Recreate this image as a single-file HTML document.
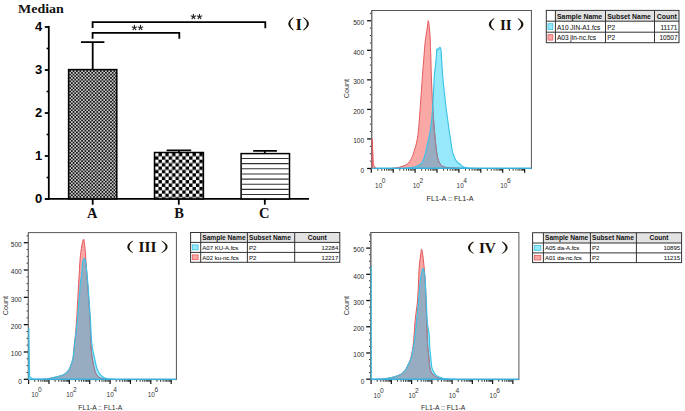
<!DOCTYPE html>
<html><head><meta charset="utf-8"><title>Figure</title>
<style>html,body{margin:0;padding:0;background:#fff;width:685px;height:411px;overflow:hidden;font-family:"Liberation Sans",sans-serif}
svg{display:block}</style></head>
<body><svg width="685" height="411" viewBox="0 0 685 411">
<rect width="685" height="411" fill="#fff"/>
<defs>
<pattern id="pA" patternUnits="userSpaceOnUse" x="69.3" y="70.3" width="3.4" height="3.4">
<rect width="3.4" height="3.4" fill="#cacaca"/><rect width="1.7" height="1.7" fill="#151515"/><rect x="1.7" y="1.7" width="1.7" height="1.7" fill="#151515"/>
</pattern>
<pattern id="pB" patternUnits="userSpaceOnUse" x="155.1" y="152.9" width="6.8" height="6.8">
<rect width="6.8" height="6.8" fill="#000"/><rect width="3.4" height="3.4" fill="#fff"/><rect x="3.4" y="3.4" width="3.4" height="3.4" fill="#fff"/>
</pattern>
</defs>
<text x="18" y="13.1" font-family='"Liberation Serif", serif' font-weight="bold" font-size="13.5" fill="#111" textLength="45.8" lengthAdjust="spacingAndGlyphs">Median</text>
<line x1="48.8" y1="25.9" x2="48.8" y2="199.6" stroke="#000" stroke-width="1.8"/>
<line x1="45.2" y1="198.9" x2="309" y2="198.9" stroke="#000" stroke-width="1.6"/>
<line x1="44.8" y1="199" x2="48.8" y2="199" stroke="#000" stroke-width="1.8"/>
<text x="42.3" y="202.9" text-anchor="end" font-family='"Liberation Sans", sans-serif' font-weight="bold" font-size="13" fill="#000">0</text>
<line x1="46.6" y1="177.5" x2="48.8" y2="177.5" stroke="#000" stroke-width="1.6"/>
<line x1="44.8" y1="156" x2="48.8" y2="156" stroke="#000" stroke-width="1.8"/>
<text x="42.3" y="159.9" text-anchor="end" font-family='"Liberation Sans", sans-serif' font-weight="bold" font-size="13" fill="#000">1</text>
<line x1="46.6" y1="134.5" x2="48.8" y2="134.5" stroke="#000" stroke-width="1.6"/>
<line x1="44.8" y1="113" x2="48.8" y2="113" stroke="#000" stroke-width="1.8"/>
<text x="42.3" y="116.9" text-anchor="end" font-family='"Liberation Sans", sans-serif' font-weight="bold" font-size="13" fill="#000">2</text>
<line x1="46.6" y1="91.5" x2="48.8" y2="91.5" stroke="#000" stroke-width="1.6"/>
<line x1="44.8" y1="70" x2="48.8" y2="70" stroke="#000" stroke-width="1.8"/>
<text x="42.3" y="73.9" text-anchor="end" font-family='"Liberation Sans", sans-serif' font-weight="bold" font-size="13" fill="#000">3</text>
<line x1="46.6" y1="48.5" x2="48.8" y2="48.5" stroke="#000" stroke-width="1.6"/>
<line x1="44.8" y1="27" x2="48.8" y2="27" stroke="#000" stroke-width="1.8"/>
<text x="42.3" y="30.9" text-anchor="end" font-family='"Liberation Sans", sans-serif' font-weight="bold" font-size="13" fill="#000">4</text>
<line x1="92.7" y1="198.9" x2="92.7" y2="204.7" stroke="#000" stroke-width="1.8"/>
<text x="92.2" y="217.9" text-anchor="middle" font-family='"Liberation Serif", serif' font-weight="bold" font-size="14.5" fill="#111">A</text>
<line x1="178.8" y1="198.9" x2="178.8" y2="204.7" stroke="#000" stroke-width="1.8"/>
<text x="179" y="217.9" text-anchor="middle" font-family='"Liberation Serif", serif' font-weight="bold" font-size="14.5" fill="#111">B</text>
<line x1="264.8" y1="198.9" x2="264.8" y2="204.7" stroke="#000" stroke-width="1.8"/>
<text x="264.3" y="217.9" text-anchor="middle" font-family='"Liberation Serif", serif' font-weight="bold" font-size="14.5" fill="#111">C</text>
<rect x="68.6" y="69.6" width="48.2" height="129.3" fill="url(#pA)" stroke="#000" stroke-width="1.5"/>
<rect x="154.5" y="152.5" width="48.9" height="46.4" fill="url(#pB)" stroke="#000" stroke-width="1.5"/>
<rect x="241.1" y="153.6" width="48.4" height="45.3" fill="#fff" stroke="#000" stroke-width="1.5"/>
<line x1="241.8" y1="158.5" x2="288.8" y2="158.5" stroke="#333" stroke-width="1.1"/>
<line x1="241.8" y1="163.65" x2="288.8" y2="163.65" stroke="#333" stroke-width="1.1"/>
<line x1="241.8" y1="168.8" x2="288.8" y2="168.8" stroke="#333" stroke-width="1.1"/>
<line x1="241.8" y1="173.95" x2="288.8" y2="173.95" stroke="#333" stroke-width="1.1"/>
<line x1="241.8" y1="179.1" x2="288.8" y2="179.1" stroke="#333" stroke-width="1.1"/>
<line x1="241.8" y1="184.25" x2="288.8" y2="184.25" stroke="#333" stroke-width="1.1"/>
<line x1="241.8" y1="189.4" x2="288.8" y2="189.4" stroke="#333" stroke-width="1.1"/>
<line x1="241.8" y1="194.55" x2="288.8" y2="194.55" stroke="#333" stroke-width="1.1"/>
<path d="M92.7 69 V42.2 M81 42.2 H104.4" stroke="#000" stroke-width="1.8" fill="none"/>
<path d="M178.9 152 V150.3 M166.6 150.3 H191.2" stroke="#000" stroke-width="1.8" fill="none"/>
<path d="M264.8 153 V150.9 M253.2 150.9 H276.9" stroke="#000" stroke-width="1.8" fill="none"/>
<path d="M92.6 28 V22.1 H265.3 V28.2" stroke="#000" stroke-width="1.8" fill="none"/>
<path d="M92.6 38.8 V32.8 H179.3 V38.8" stroke="#000" stroke-width="1.8" fill="none"/>
<path d="M134.4 27.75 L134.4 25.45 M134.4 27.75 L136.59 27.04 M134.4 27.75 L135.75 29.61 M134.4 27.75 L133.05 29.61 M134.4 27.75 L132.21 27.04 " stroke="#2a2a2a" stroke-width="1.2" stroke-linecap="round" fill="none"/>
<path d="M140.5 27.75 L140.5 25.45 M140.5 27.75 L142.69 27.04 M140.5 27.75 L141.85 29.61 M140.5 27.75 L139.15 29.61 M140.5 27.75 L138.31 27.04 " stroke="#2a2a2a" stroke-width="1.2" stroke-linecap="round" fill="none"/>
<path d="M193.4 16.7 L193.4 14.4 M193.4 16.7 L195.59 15.99 M193.4 16.7 L194.75 18.56 M193.4 16.7 L192.05 18.56 M193.4 16.7 L191.21 15.99 " stroke="#2a2a2a" stroke-width="1.2" stroke-linecap="round" fill="none"/>
<path d="M199.5 16.7 L199.5 14.4 M199.5 16.7 L201.69 15.99 M199.5 16.7 L200.85 18.56 M199.5 16.7 L198.15 18.56 M199.5 16.7 L197.31 15.99 " stroke="#2a2a2a" stroke-width="1.2" stroke-linecap="round" fill="none"/>
<path d="M293.1 17.3 Q283.5 23.85 293.1 30.4 L293.7 30.1 Q286.9 23.85 293.7 17.6 Z" fill="#1a1208"/>
<path d="M303.7 17.3 Q314.1 23.85 303.7 30.4 L303.1 30.1 Q310.7 23.85 303.1 17.6 Z" fill="#1a1208"/>
<text x="295.6" y="29.5" font-family='"Liberation Serif", serif' font-weight="bold" font-size="15.86" fill="#1a1208" textLength="6.5" lengthAdjust="spacingAndGlyphs">I</text>
<line x1="367.1" y1="168.5" x2="371.7" y2="168.5" stroke="#111" stroke-width="1.3"/>
<text x="364.2" y="172.8" text-anchor="end" font-family='"Liberation Sans", sans-serif' font-size="6.6" fill="#2a2a2a">0</text>
<line x1="369.9" y1="161.11" x2="371.7" y2="161.11" stroke="#333" stroke-width="1"/>
<line x1="369.9" y1="153.72" x2="371.7" y2="153.72" stroke="#333" stroke-width="1"/>
<line x1="369.9" y1="146.34" x2="371.7" y2="146.34" stroke="#333" stroke-width="1"/>
<line x1="367.1" y1="138.95" x2="371.7" y2="138.95" stroke="#111" stroke-width="1.3"/>
<text x="364.2" y="143.25" text-anchor="end" font-family='"Liberation Sans", sans-serif' font-size="6.6" fill="#2a2a2a">100</text>
<line x1="369.9" y1="131.56" x2="371.7" y2="131.56" stroke="#333" stroke-width="1"/>
<line x1="369.9" y1="124.18" x2="371.7" y2="124.18" stroke="#333" stroke-width="1"/>
<line x1="369.9" y1="116.79" x2="371.7" y2="116.79" stroke="#333" stroke-width="1"/>
<line x1="367.1" y1="109.4" x2="371.7" y2="109.4" stroke="#111" stroke-width="1.3"/>
<text x="364.2" y="113.7" text-anchor="end" font-family='"Liberation Sans", sans-serif' font-size="6.6" fill="#2a2a2a">200</text>
<line x1="369.9" y1="102.01" x2="371.7" y2="102.01" stroke="#333" stroke-width="1"/>
<line x1="369.9" y1="94.62" x2="371.7" y2="94.62" stroke="#333" stroke-width="1"/>
<line x1="369.9" y1="87.24" x2="371.7" y2="87.24" stroke="#333" stroke-width="1"/>
<line x1="367.1" y1="79.85" x2="371.7" y2="79.85" stroke="#111" stroke-width="1.3"/>
<text x="364.2" y="84.15" text-anchor="end" font-family='"Liberation Sans", sans-serif' font-size="6.6" fill="#2a2a2a">300</text>
<line x1="369.9" y1="72.46" x2="371.7" y2="72.46" stroke="#333" stroke-width="1"/>
<line x1="369.9" y1="65.08" x2="371.7" y2="65.08" stroke="#333" stroke-width="1"/>
<line x1="369.9" y1="57.69" x2="371.7" y2="57.69" stroke="#333" stroke-width="1"/>
<line x1="367.1" y1="50.3" x2="371.7" y2="50.3" stroke="#111" stroke-width="1.3"/>
<text x="364.2" y="54.6" text-anchor="end" font-family='"Liberation Sans", sans-serif' font-size="6.6" fill="#2a2a2a">400</text>
<line x1="369.9" y1="42.91" x2="371.7" y2="42.91" stroke="#333" stroke-width="1"/>
<line x1="369.9" y1="35.53" x2="371.7" y2="35.53" stroke="#333" stroke-width="1"/>
<line x1="369.9" y1="28.14" x2="371.7" y2="28.14" stroke="#333" stroke-width="1"/>
<line x1="367.1" y1="20.75" x2="371.7" y2="20.75" stroke="#111" stroke-width="1.3"/>
<text x="364.2" y="25.05" text-anchor="end" font-family='"Liberation Sans", sans-serif' font-size="6.6" fill="#2a2a2a">500</text>
<line x1="369.9" y1="13.36" x2="371.7" y2="13.36" stroke="#333" stroke-width="1"/>
<text x="349.2" y="88.7" text-anchor="middle" font-family='"Liberation Sans", sans-serif' font-size="7.2" fill="#333" transform="rotate(-90 349.2 88.7)">Count</text>
<line x1="371.3" y1="168.5" x2="371.3" y2="172.8" stroke="#111" stroke-width="1.2"/>
<line x1="377.89" y1="168.5" x2="377.89" y2="170.7" stroke="#222" stroke-width="0.9"/>
<line x1="381.75" y1="168.5" x2="381.75" y2="170.7" stroke="#222" stroke-width="0.9"/>
<line x1="384.49" y1="168.5" x2="384.49" y2="170.7" stroke="#222" stroke-width="0.9"/>
<line x1="386.61" y1="168.5" x2="386.61" y2="170.7" stroke="#222" stroke-width="0.9"/>
<line x1="388.34" y1="168.5" x2="388.34" y2="170.7" stroke="#222" stroke-width="0.9"/>
<line x1="389.81" y1="168.5" x2="389.81" y2="170.7" stroke="#222" stroke-width="0.9"/>
<line x1="391.08" y1="168.5" x2="391.08" y2="170.7" stroke="#222" stroke-width="0.9"/>
<line x1="392.2" y1="168.5" x2="392.2" y2="170.7" stroke="#222" stroke-width="0.9"/>
<line x1="393.2" y1="168.5" x2="393.2" y2="172.8" stroke="#111" stroke-width="1.2"/>
<line x1="399.79" y1="168.5" x2="399.79" y2="170.7" stroke="#222" stroke-width="0.9"/>
<line x1="403.65" y1="168.5" x2="403.65" y2="170.7" stroke="#222" stroke-width="0.9"/>
<line x1="406.39" y1="168.5" x2="406.39" y2="170.7" stroke="#222" stroke-width="0.9"/>
<line x1="408.51" y1="168.5" x2="408.51" y2="170.7" stroke="#222" stroke-width="0.9"/>
<line x1="410.24" y1="168.5" x2="410.24" y2="170.7" stroke="#222" stroke-width="0.9"/>
<line x1="411.71" y1="168.5" x2="411.71" y2="170.7" stroke="#222" stroke-width="0.9"/>
<line x1="412.98" y1="168.5" x2="412.98" y2="170.7" stroke="#222" stroke-width="0.9"/>
<line x1="414.1" y1="168.5" x2="414.1" y2="170.7" stroke="#222" stroke-width="0.9"/>
<line x1="415.1" y1="168.5" x2="415.1" y2="172.8" stroke="#111" stroke-width="1.2"/>
<line x1="421.69" y1="168.5" x2="421.69" y2="170.7" stroke="#222" stroke-width="0.9"/>
<line x1="425.55" y1="168.5" x2="425.55" y2="170.7" stroke="#222" stroke-width="0.9"/>
<line x1="428.29" y1="168.5" x2="428.29" y2="170.7" stroke="#222" stroke-width="0.9"/>
<line x1="430.41" y1="168.5" x2="430.41" y2="170.7" stroke="#222" stroke-width="0.9"/>
<line x1="432.14" y1="168.5" x2="432.14" y2="170.7" stroke="#222" stroke-width="0.9"/>
<line x1="433.61" y1="168.5" x2="433.61" y2="170.7" stroke="#222" stroke-width="0.9"/>
<line x1="434.88" y1="168.5" x2="434.88" y2="170.7" stroke="#222" stroke-width="0.9"/>
<line x1="436" y1="168.5" x2="436" y2="170.7" stroke="#222" stroke-width="0.9"/>
<line x1="437" y1="168.5" x2="437" y2="172.8" stroke="#111" stroke-width="1.2"/>
<line x1="443.59" y1="168.5" x2="443.59" y2="170.7" stroke="#222" stroke-width="0.9"/>
<line x1="447.45" y1="168.5" x2="447.45" y2="170.7" stroke="#222" stroke-width="0.9"/>
<line x1="450.19" y1="168.5" x2="450.19" y2="170.7" stroke="#222" stroke-width="0.9"/>
<line x1="452.31" y1="168.5" x2="452.31" y2="170.7" stroke="#222" stroke-width="0.9"/>
<line x1="454.04" y1="168.5" x2="454.04" y2="170.7" stroke="#222" stroke-width="0.9"/>
<line x1="455.51" y1="168.5" x2="455.51" y2="170.7" stroke="#222" stroke-width="0.9"/>
<line x1="456.78" y1="168.5" x2="456.78" y2="170.7" stroke="#222" stroke-width="0.9"/>
<line x1="457.9" y1="168.5" x2="457.9" y2="170.7" stroke="#222" stroke-width="0.9"/>
<line x1="458.9" y1="168.5" x2="458.9" y2="172.8" stroke="#111" stroke-width="1.2"/>
<line x1="465.49" y1="168.5" x2="465.49" y2="170.7" stroke="#222" stroke-width="0.9"/>
<line x1="469.35" y1="168.5" x2="469.35" y2="170.7" stroke="#222" stroke-width="0.9"/>
<line x1="472.09" y1="168.5" x2="472.09" y2="170.7" stroke="#222" stroke-width="0.9"/>
<line x1="474.21" y1="168.5" x2="474.21" y2="170.7" stroke="#222" stroke-width="0.9"/>
<line x1="475.94" y1="168.5" x2="475.94" y2="170.7" stroke="#222" stroke-width="0.9"/>
<line x1="477.41" y1="168.5" x2="477.41" y2="170.7" stroke="#222" stroke-width="0.9"/>
<line x1="478.68" y1="168.5" x2="478.68" y2="170.7" stroke="#222" stroke-width="0.9"/>
<line x1="479.8" y1="168.5" x2="479.8" y2="170.7" stroke="#222" stroke-width="0.9"/>
<line x1="480.8" y1="168.5" x2="480.8" y2="172.8" stroke="#111" stroke-width="1.2"/>
<line x1="487.39" y1="168.5" x2="487.39" y2="170.7" stroke="#222" stroke-width="0.9"/>
<line x1="491.25" y1="168.5" x2="491.25" y2="170.7" stroke="#222" stroke-width="0.9"/>
<line x1="493.99" y1="168.5" x2="493.99" y2="170.7" stroke="#222" stroke-width="0.9"/>
<line x1="496.11" y1="168.5" x2="496.11" y2="170.7" stroke="#222" stroke-width="0.9"/>
<line x1="497.84" y1="168.5" x2="497.84" y2="170.7" stroke="#222" stroke-width="0.9"/>
<line x1="499.31" y1="168.5" x2="499.31" y2="170.7" stroke="#222" stroke-width="0.9"/>
<line x1="500.58" y1="168.5" x2="500.58" y2="170.7" stroke="#222" stroke-width="0.9"/>
<line x1="501.7" y1="168.5" x2="501.7" y2="170.7" stroke="#222" stroke-width="0.9"/>
<line x1="502.7" y1="168.5" x2="502.7" y2="172.8" stroke="#111" stroke-width="1.2"/>
<line x1="509.29" y1="168.5" x2="509.29" y2="170.7" stroke="#222" stroke-width="0.9"/>
<line x1="513.15" y1="168.5" x2="513.15" y2="170.7" stroke="#222" stroke-width="0.9"/>
<line x1="515.89" y1="168.5" x2="515.89" y2="170.7" stroke="#222" stroke-width="0.9"/>
<line x1="518.01" y1="168.5" x2="518.01" y2="170.7" stroke="#222" stroke-width="0.9"/>
<line x1="519.74" y1="168.5" x2="519.74" y2="170.7" stroke="#222" stroke-width="0.9"/>
<line x1="521.21" y1="168.5" x2="521.21" y2="170.7" stroke="#222" stroke-width="0.9"/>
<line x1="522.48" y1="168.5" x2="522.48" y2="170.7" stroke="#222" stroke-width="0.9"/>
<line x1="523.6" y1="168.5" x2="523.6" y2="170.7" stroke="#222" stroke-width="0.9"/>
<line x1="524.6" y1="168.5" x2="524.6" y2="172.8" stroke="#111" stroke-width="1.2"/>
<text x="375.1" y="188" font-family='"Liberation Sans", sans-serif' font-size="7" fill="#333" textLength="7.1" lengthAdjust="spacingAndGlyphs">10</text>
<text x="381.8" y="183" font-family='"Liberation Sans", sans-serif' font-size="6.6" fill="#333">0</text>
<text x="412.8" y="188" font-family='"Liberation Sans", sans-serif' font-size="7" fill="#333" textLength="7.1" lengthAdjust="spacingAndGlyphs">10</text>
<text x="419.5" y="183" font-family='"Liberation Sans", sans-serif' font-size="6.6" fill="#333">2</text>
<text x="456.6" y="188" font-family='"Liberation Sans", sans-serif' font-size="7" fill="#333" textLength="7.1" lengthAdjust="spacingAndGlyphs">10</text>
<text x="463.3" y="183" font-family='"Liberation Sans", sans-serif' font-size="6.6" fill="#333">4</text>
<text x="500.3" y="188" font-family='"Liberation Sans", sans-serif' font-size="7" fill="#333" textLength="7.1" lengthAdjust="spacingAndGlyphs">10</text>
<text x="507" y="183" font-family='"Liberation Sans", sans-serif' font-size="6.6" fill="#333">6</text>
<text x="426.6" y="201" font-family='"Liberation Sans", sans-serif' font-size="7.5" fill="#2a2a2a" textLength="47" lengthAdjust="spacingAndGlyphs">FL1-A :: FL1-A</text>
<clipPath id="clip2"><rect x="371.7" y="10.5" width="159.7" height="158"/></clipPath>
<clipPath id="cc2"><path d="M405 168.5 C405.83 168.4 408.28 168.18 410 167.9 C411.72 167.62 413.88 167.23 415.3 166.8 C416.72 166.37 417.47 165.88 418.5 165.3 C419.53 164.72 420.5 164.75 421.5 163.3 C422.5 161.85 423.48 159.93 424.5 156.6 C425.52 153.27 426.57 148.07 427.6 143.3 C428.63 138.53 429.88 133.55 430.7 128 C431.52 122.45 432.02 116.33 432.5 110 C432.98 103.67 433.28 95.83 433.6 90 C433.92 84.17 434.1 79 434.4 75 C434.7 71 435.08 69 435.4 66 C435.72 63 436.07 59.72 436.3 57 C436.53 54.28 436.55 51.02 436.8 49.7 C437.05 48.38 437.5 49.15 437.8 49.1 C438.1 49.05 438.28 49.7 438.6 49.4 C438.92 49.1 439.38 47.5 439.7 47.3 C440.02 47.1 440.25 47.47 440.5 48.2 C440.75 48.93 441.02 49.73 441.2 51.7 C441.38 53.67 441.33 55.78 441.6 60 C441.87 64.22 442.32 71.33 442.8 77 C443.28 82.67 443.88 88.33 444.5 94 C445.12 99.67 445.73 105 446.5 111 C447.27 117 448.4 125.17 449.1 130 C449.8 134.83 450.17 136.5 450.7 140 C451.23 143.5 451.65 148.02 452.3 151 C452.95 153.98 453.73 156.02 454.6 157.9 C455.47 159.78 456.68 161.32 457.5 162.3 C458.32 163.28 458.85 163.27 459.5 163.8 C460.15 164.33 460.38 164.88 461.4 165.5 C462.42 166.12 463.83 167.03 465.6 167.5 C467.37 167.97 469.93 168.13 472 168.3 C474.07 168.47 477 168.47 478 168.5 Z"/></clipPath>
<g clip-path="url(#clip2)">
<path d="M390 168.5 C391.17 168.37 395.17 168 397 167.7 C398.83 167.4 399.67 167.08 401 166.7 C402.33 166.32 403.8 165.97 405 165.4 C406.2 164.83 407.28 164.2 408.2 163.3 C409.12 162.4 409.82 161.12 410.5 160 C411.18 158.88 411.63 158.27 412.3 156.6 C412.97 154.93 413.82 152.22 414.5 150 C415.18 147.78 415.78 146.13 416.4 143.3 C417.02 140.47 417.72 136.88 418.2 133 C418.68 129.12 418.87 125.5 419.3 120 C419.73 114.5 420.27 107.5 420.8 100 C421.33 92.5 422.05 81.33 422.5 75 C422.95 68.67 423.2 65.83 423.5 62 C423.8 58.17 424.07 54.83 424.3 52 C424.53 49.17 424.68 47.25 424.9 45 C425.12 42.75 425.33 40.5 425.6 38.5 C425.87 36.5 426.2 34.92 426.5 33 C426.8 31.08 427.12 29.05 427.4 27 C427.68 24.95 427.95 21.2 428.2 20.7 C428.45 20.2 428.68 22.62 428.9 24 C429.12 25.38 429.3 26.83 429.5 29 C429.7 31.17 429.95 34.3 430.1 37 C430.25 39.7 430.28 42.03 430.4 45.2 C430.52 48.37 430.65 51.03 430.8 56 C430.95 60.97 431.1 69 431.3 75 C431.5 81 431.73 86.17 432 92 C432.27 97.83 432.53 104 432.9 110 C433.27 116 433.8 123 434.2 128 C434.6 133 434.87 135.83 435.3 140 C435.73 144.17 436.3 149.67 436.8 153 C437.3 156.33 437.67 158.07 438.3 160 C438.93 161.93 439.58 163.43 440.6 164.6 C441.62 165.77 442.5 166.43 444.4 167 C446.3 167.57 448.07 167.75 452 168 C455.93 168.25 465.33 168.42 468 168.5 Z" fill="#faa8a5"/>
<path d="M405 168.5 C405.83 168.4 408.28 168.18 410 167.9 C411.72 167.62 413.88 167.23 415.3 166.8 C416.72 166.37 417.47 165.88 418.5 165.3 C419.53 164.72 420.5 164.75 421.5 163.3 C422.5 161.85 423.48 159.93 424.5 156.6 C425.52 153.27 426.57 148.07 427.6 143.3 C428.63 138.53 429.88 133.55 430.7 128 C431.52 122.45 432.02 116.33 432.5 110 C432.98 103.67 433.28 95.83 433.6 90 C433.92 84.17 434.1 79 434.4 75 C434.7 71 435.08 69 435.4 66 C435.72 63 436.07 59.72 436.3 57 C436.53 54.28 436.55 51.02 436.8 49.7 C437.05 48.38 437.5 49.15 437.8 49.1 C438.1 49.05 438.28 49.7 438.6 49.4 C438.92 49.1 439.38 47.5 439.7 47.3 C440.02 47.1 440.25 47.47 440.5 48.2 C440.75 48.93 441.02 49.73 441.2 51.7 C441.38 53.67 441.33 55.78 441.6 60 C441.87 64.22 442.32 71.33 442.8 77 C443.28 82.67 443.88 88.33 444.5 94 C445.12 99.67 445.73 105 446.5 111 C447.27 117 448.4 125.17 449.1 130 C449.8 134.83 450.17 136.5 450.7 140 C451.23 143.5 451.65 148.02 452.3 151 C452.95 153.98 453.73 156.02 454.6 157.9 C455.47 159.78 456.68 161.32 457.5 162.3 C458.32 163.28 458.85 163.27 459.5 163.8 C460.15 164.33 460.38 164.88 461.4 165.5 C462.42 166.12 463.83 167.03 465.6 167.5 C467.37 167.97 469.93 168.13 472 168.3 C474.07 168.47 477 168.47 478 168.5 Z" fill="#95e9fa"/>
<path d="M390 168.5 C391.17 168.37 395.17 168 397 167.7 C398.83 167.4 399.67 167.08 401 166.7 C402.33 166.32 403.8 165.97 405 165.4 C406.2 164.83 407.28 164.2 408.2 163.3 C409.12 162.4 409.82 161.12 410.5 160 C411.18 158.88 411.63 158.27 412.3 156.6 C412.97 154.93 413.82 152.22 414.5 150 C415.18 147.78 415.78 146.13 416.4 143.3 C417.02 140.47 417.72 136.88 418.2 133 C418.68 129.12 418.87 125.5 419.3 120 C419.73 114.5 420.27 107.5 420.8 100 C421.33 92.5 422.05 81.33 422.5 75 C422.95 68.67 423.2 65.83 423.5 62 C423.8 58.17 424.07 54.83 424.3 52 C424.53 49.17 424.68 47.25 424.9 45 C425.12 42.75 425.33 40.5 425.6 38.5 C425.87 36.5 426.2 34.92 426.5 33 C426.8 31.08 427.12 29.05 427.4 27 C427.68 24.95 427.95 21.2 428.2 20.7 C428.45 20.2 428.68 22.62 428.9 24 C429.12 25.38 429.3 26.83 429.5 29 C429.7 31.17 429.95 34.3 430.1 37 C430.25 39.7 430.28 42.03 430.4 45.2 C430.52 48.37 430.65 51.03 430.8 56 C430.95 60.97 431.1 69 431.3 75 C431.5 81 431.73 86.17 432 92 C432.27 97.83 432.53 104 432.9 110 C433.27 116 433.8 123 434.2 128 C434.6 133 434.87 135.83 435.3 140 C435.73 144.17 436.3 149.67 436.8 153 C437.3 156.33 437.67 158.07 438.3 160 C438.93 161.93 439.58 163.43 440.6 164.6 C441.62 165.77 442.5 166.43 444.4 167 C446.3 167.57 448.07 167.75 452 168 C455.93 168.25 465.33 168.42 468 168.5 Z" fill="#97acc0" clip-path="url(#cc2)"/>
<path d="M371.8 168.3 L372.2 138.8 L373.4 164 L375.5 168.3 Z" fill="#faa8a5"/>
<path d="M390 168.5 C391.17 168.37 395.17 168 397 167.7 C398.83 167.4 399.67 167.08 401 166.7 C402.33 166.32 403.8 165.97 405 165.4 C406.2 164.83 407.28 164.2 408.2 163.3 C409.12 162.4 409.82 161.12 410.5 160 C411.18 158.88 411.63 158.27 412.3 156.6 C412.97 154.93 413.82 152.22 414.5 150 C415.18 147.78 415.78 146.13 416.4 143.3 C417.02 140.47 417.72 136.88 418.2 133 C418.68 129.12 418.87 125.5 419.3 120 C419.73 114.5 420.27 107.5 420.8 100 C421.33 92.5 422.05 81.33 422.5 75 C422.95 68.67 423.2 65.83 423.5 62 C423.8 58.17 424.07 54.83 424.3 52 C424.53 49.17 424.68 47.25 424.9 45 C425.12 42.75 425.33 40.5 425.6 38.5 C425.87 36.5 426.2 34.92 426.5 33 C426.8 31.08 427.12 29.05 427.4 27 C427.68 24.95 427.95 21.2 428.2 20.7 C428.45 20.2 428.68 22.62 428.9 24 C429.12 25.38 429.3 26.83 429.5 29 C429.7 31.17 429.95 34.3 430.1 37 C430.25 39.7 430.28 42.03 430.4 45.2 C430.52 48.37 430.65 51.03 430.8 56 C430.95 60.97 431.1 69 431.3 75 C431.5 81 431.73 86.17 432 92 C432.27 97.83 432.53 104 432.9 110 C433.27 116 433.8 123 434.2 128 C434.6 133 434.87 135.83 435.3 140 C435.73 144.17 436.3 149.67 436.8 153 C437.3 156.33 437.67 158.07 438.3 160 C438.93 161.93 439.58 163.43 440.6 164.6 C441.62 165.77 442.5 166.43 444.4 167 C446.3 167.57 448.07 167.75 452 168 C455.93 168.25 465.33 168.42 468 168.5" fill="none" stroke="#e4585e" stroke-width="1"/>
<path d="M390 168.5 C391.17 168.37 395.17 168 397 167.7 C398.83 167.4 399.67 167.08 401 166.7 C402.33 166.32 403.8 165.97 405 165.4 C406.2 164.83 407.28 164.2 408.2 163.3 C409.12 162.4 409.82 161.12 410.5 160 C411.18 158.88 411.63 158.27 412.3 156.6 C412.97 154.93 413.82 152.22 414.5 150 C415.18 147.78 415.78 146.13 416.4 143.3 C417.02 140.47 417.72 136.88 418.2 133 C418.68 129.12 418.87 125.5 419.3 120 C419.73 114.5 420.27 107.5 420.8 100 C421.33 92.5 422.05 81.33 422.5 75 C422.95 68.67 423.2 65.83 423.5 62 C423.8 58.17 424.07 54.83 424.3 52 C424.53 49.17 424.68 47.25 424.9 45 C425.12 42.75 425.33 40.5 425.6 38.5 C425.87 36.5 426.2 34.92 426.5 33 C426.8 31.08 427.12 29.05 427.4 27 C427.68 24.95 427.95 21.2 428.2 20.7 C428.45 20.2 428.68 22.62 428.9 24 C429.12 25.38 429.3 26.83 429.5 29 C429.7 31.17 429.95 34.3 430.1 37 C430.25 39.7 430.28 42.03 430.4 45.2 C430.52 48.37 430.65 51.03 430.8 56 C430.95 60.97 431.1 69 431.3 75 C431.5 81 431.73 86.17 432 92 C432.27 97.83 432.53 104 432.9 110 C433.27 116 433.8 123 434.2 128 C434.6 133 434.87 135.83 435.3 140 C435.73 144.17 436.3 149.67 436.8 153 C437.3 156.33 437.67 158.07 438.3 160 C438.93 161.93 439.58 163.43 440.6 164.6 C441.62 165.77 442.5 166.43 444.4 167 C446.3 167.57 448.07 167.75 452 168 C455.93 168.25 465.33 168.42 468 168.5" fill="none" stroke="#8a88a2" stroke-width="1" clip-path="url(#cc2)"/>
<path d="M405 168.5 C405.83 168.4 408.28 168.18 410 167.9 C411.72 167.62 413.88 167.23 415.3 166.8 C416.72 166.37 417.47 165.88 418.5 165.3 C419.53 164.72 420.5 164.75 421.5 163.3 C422.5 161.85 423.48 159.93 424.5 156.6 C425.52 153.27 426.57 148.07 427.6 143.3 C428.63 138.53 429.88 133.55 430.7 128 C431.52 122.45 432.02 116.33 432.5 110 C432.98 103.67 433.28 95.83 433.6 90 C433.92 84.17 434.1 79 434.4 75 C434.7 71 435.08 69 435.4 66 C435.72 63 436.07 59.72 436.3 57 C436.53 54.28 436.55 51.02 436.8 49.7 C437.05 48.38 437.5 49.15 437.8 49.1 C438.1 49.05 438.28 49.7 438.6 49.4 C438.92 49.1 439.38 47.5 439.7 47.3 C440.02 47.1 440.25 47.47 440.5 48.2 C440.75 48.93 441.02 49.73 441.2 51.7 C441.38 53.67 441.33 55.78 441.6 60 C441.87 64.22 442.32 71.33 442.8 77 C443.28 82.67 443.88 88.33 444.5 94 C445.12 99.67 445.73 105 446.5 111 C447.27 117 448.4 125.17 449.1 130 C449.8 134.83 450.17 136.5 450.7 140 C451.23 143.5 451.65 148.02 452.3 151 C452.95 153.98 453.73 156.02 454.6 157.9 C455.47 159.78 456.68 161.32 457.5 162.3 C458.32 163.28 458.85 163.27 459.5 163.8 C460.15 164.33 460.38 164.88 461.4 165.5 C462.42 166.12 463.83 167.03 465.6 167.5 C467.37 167.97 469.93 168.13 472 168.3 C474.07 168.47 477 168.47 478 168.5" fill="none" stroke="#3ac2e6" stroke-width="1.15"/>
</g>
<rect x="371.7" y="10.5" width="159.7" height="158" fill="none" stroke="#555" stroke-width="1"/>
<line x1="371.7" y1="10.5" x2="371.7" y2="169.1" stroke="#707070" stroke-width="1.2"/>
<line x1="371.7" y1="168.2" x2="531.4" y2="168.2" stroke="#36b0dc" stroke-width="1.5"/>
<path d="M372.2 138.8 L373.4 164 Q374 167 376 168" fill="none" stroke="#e4585e" stroke-width="0.9"/>
<line x1="372.2" y1="168" x2="372.2" y2="138.8" stroke="#e4585e" stroke-width="1"/>
<path d="M494 18.3 Q483.6 24.45 494 30.6 L494.6 30.3 Q487 24.45 494.6 18.6 Z" fill="#1a1208"/>
<path d="M518.2 18.3 Q528.6 24.45 518.2 30.6 L517.6 30.3 Q525.2 24.45 517.6 18.6 Z" fill="#1a1208"/>
<text x="499.9" y="29.7" font-family='"Liberation Serif", serif' font-weight="bold" font-size="14.5" fill="#1a1208" textLength="11.8" lengthAdjust="spacingAndGlyphs">II</text>
<rect x="555.4" y="10.4" width="123.6" height="10.8" fill="#e2e2e2"/>
<rect x="546.3" y="10.4" width="9.1" height="10.8" fill="#fff"/>
<rect x="546.3" y="10.4" width="132.7" height="32.3" fill="none" stroke="#333" stroke-width="1"/>
<line x1="555.4" y1="10.4" x2="555.4" y2="42.7" stroke="#333" stroke-width="1"/>
<line x1="605.5" y1="10.4" x2="605.5" y2="42.7" stroke="#333" stroke-width="1"/>
<line x1="654.5" y1="10.4" x2="654.5" y2="42.7" stroke="#333" stroke-width="1"/>
<line x1="546.3" y1="21.2" x2="679" y2="21.2" stroke="#333" stroke-width="1"/>
<line x1="546.3" y1="32.2" x2="679" y2="32.2" stroke="#333" stroke-width="1"/>
<rect x="548" y="23.7" width="4.8" height="5.9" fill="#95e9fa" stroke="#3ac2e6" stroke-width="0.8"/>
<rect x="548" y="34.7" width="4.8" height="5.4" fill="#faa8a5" stroke="#e4585e" stroke-width="0.8"/>
<text x="557" y="18.6" font-family='"Liberation Sans", sans-serif' font-weight="bold" font-size="6.9" fill="#111">Sample Name</text>
<text x="607.2" y="18.6" font-family='"Liberation Sans", sans-serif' font-weight="bold" font-size="6.9" fill="#111">Subset Name</text>
<text x="666.75" y="18.6" text-anchor="middle" font-family='"Liberation Sans", sans-serif' font-weight="bold" font-size="6.9" fill="#111">Count</text>
<text x="557" y="29.5" font-family='"Liberation Sans", sans-serif' font-size="6.5" fill="#222" stroke="#222" stroke-width="0.08">A10 JIN-A1.fcs</text>
<text x="607.2" y="29.5" font-family='"Liberation Sans", sans-serif' font-size="6.5" fill="#222" stroke="#222" stroke-width="0.08">P2</text>
<text x="677.5" y="29.5" text-anchor="end" font-family='"Liberation Sans", sans-serif' font-size="6.5" fill="#222" stroke="#222" stroke-width="0.08">11171</text>
<text x="557" y="40" font-family='"Liberation Sans", sans-serif' font-size="6.5" fill="#222" stroke="#222" stroke-width="0.08">A03 jin-nc.fcs</text>
<text x="607.2" y="40" font-family='"Liberation Sans", sans-serif' font-size="6.5" fill="#222" stroke="#222" stroke-width="0.08">P2</text>
<text x="677.5" y="40" text-anchor="end" font-family='"Liberation Sans", sans-serif' font-size="6.5" fill="#222" stroke="#222" stroke-width="0.08">10507</text>
<line x1="23.8" y1="379.3" x2="28.4" y2="379.3" stroke="#111" stroke-width="1.3"/>
<text x="21.8" y="383.6" text-anchor="end" font-family='"Liberation Sans", sans-serif' font-size="6.6" fill="#2a2a2a">0</text>
<line x1="26.6" y1="372.47" x2="28.4" y2="372.47" stroke="#333" stroke-width="1"/>
<line x1="26.6" y1="365.64" x2="28.4" y2="365.64" stroke="#333" stroke-width="1"/>
<line x1="26.6" y1="358.81" x2="28.4" y2="358.81" stroke="#333" stroke-width="1"/>
<line x1="23.8" y1="351.98" x2="28.4" y2="351.98" stroke="#111" stroke-width="1.3"/>
<text x="21.8" y="356.28" text-anchor="end" font-family='"Liberation Sans", sans-serif' font-size="6.6" fill="#2a2a2a">100</text>
<line x1="26.6" y1="345.15" x2="28.4" y2="345.15" stroke="#333" stroke-width="1"/>
<line x1="26.6" y1="338.32" x2="28.4" y2="338.32" stroke="#333" stroke-width="1"/>
<line x1="26.6" y1="331.49" x2="28.4" y2="331.49" stroke="#333" stroke-width="1"/>
<line x1="23.8" y1="324.66" x2="28.4" y2="324.66" stroke="#111" stroke-width="1.3"/>
<text x="21.8" y="328.96" text-anchor="end" font-family='"Liberation Sans", sans-serif' font-size="6.6" fill="#2a2a2a">200</text>
<line x1="26.6" y1="317.83" x2="28.4" y2="317.83" stroke="#333" stroke-width="1"/>
<line x1="26.6" y1="311" x2="28.4" y2="311" stroke="#333" stroke-width="1"/>
<line x1="26.6" y1="304.17" x2="28.4" y2="304.17" stroke="#333" stroke-width="1"/>
<line x1="23.8" y1="297.34" x2="28.4" y2="297.34" stroke="#111" stroke-width="1.3"/>
<text x="21.8" y="301.64" text-anchor="end" font-family='"Liberation Sans", sans-serif' font-size="6.6" fill="#2a2a2a">300</text>
<line x1="26.6" y1="290.51" x2="28.4" y2="290.51" stroke="#333" stroke-width="1"/>
<line x1="26.6" y1="283.68" x2="28.4" y2="283.68" stroke="#333" stroke-width="1"/>
<line x1="26.6" y1="276.85" x2="28.4" y2="276.85" stroke="#333" stroke-width="1"/>
<line x1="23.8" y1="270.02" x2="28.4" y2="270.02" stroke="#111" stroke-width="1.3"/>
<text x="21.8" y="274.32" text-anchor="end" font-family='"Liberation Sans", sans-serif' font-size="6.6" fill="#2a2a2a">400</text>
<line x1="26.6" y1="263.19" x2="28.4" y2="263.19" stroke="#333" stroke-width="1"/>
<line x1="26.6" y1="256.36" x2="28.4" y2="256.36" stroke="#333" stroke-width="1"/>
<line x1="26.6" y1="249.53" x2="28.4" y2="249.53" stroke="#333" stroke-width="1"/>
<line x1="23.8" y1="242.7" x2="28.4" y2="242.7" stroke="#111" stroke-width="1.3"/>
<text x="21.8" y="247" text-anchor="end" font-family='"Liberation Sans", sans-serif' font-size="6.6" fill="#2a2a2a">500</text>
<line x1="26.6" y1="235.87" x2="28.4" y2="235.87" stroke="#333" stroke-width="1"/>
<text x="7.8" y="305.7" text-anchor="middle" font-family='"Liberation Sans", sans-serif' font-size="7.2" fill="#333" transform="rotate(-90 7.8 305.7)">Count</text>
<line x1="28.6" y1="379.6" x2="28.6" y2="383.9" stroke="#111" stroke-width="1.2"/>
<line x1="34.73" y1="379.6" x2="34.73" y2="381.8" stroke="#222" stroke-width="0.9"/>
<line x1="38.32" y1="379.6" x2="38.32" y2="381.8" stroke="#222" stroke-width="0.9"/>
<line x1="40.86" y1="379.6" x2="40.86" y2="381.8" stroke="#222" stroke-width="0.9"/>
<line x1="42.84" y1="379.6" x2="42.84" y2="381.8" stroke="#222" stroke-width="0.9"/>
<line x1="44.45" y1="379.6" x2="44.45" y2="381.8" stroke="#222" stroke-width="0.9"/>
<line x1="45.81" y1="379.6" x2="45.81" y2="381.8" stroke="#222" stroke-width="0.9"/>
<line x1="47" y1="379.6" x2="47" y2="381.8" stroke="#222" stroke-width="0.9"/>
<line x1="48.04" y1="379.6" x2="48.04" y2="381.8" stroke="#222" stroke-width="0.9"/>
<line x1="48.97" y1="379.6" x2="48.97" y2="383.9" stroke="#111" stroke-width="1.2"/>
<line x1="55.1" y1="379.6" x2="55.1" y2="381.8" stroke="#222" stroke-width="0.9"/>
<line x1="58.69" y1="379.6" x2="58.69" y2="381.8" stroke="#222" stroke-width="0.9"/>
<line x1="61.23" y1="379.6" x2="61.23" y2="381.8" stroke="#222" stroke-width="0.9"/>
<line x1="63.21" y1="379.6" x2="63.21" y2="381.8" stroke="#222" stroke-width="0.9"/>
<line x1="64.82" y1="379.6" x2="64.82" y2="381.8" stroke="#222" stroke-width="0.9"/>
<line x1="66.18" y1="379.6" x2="66.18" y2="381.8" stroke="#222" stroke-width="0.9"/>
<line x1="67.37" y1="379.6" x2="67.37" y2="381.8" stroke="#222" stroke-width="0.9"/>
<line x1="68.41" y1="379.6" x2="68.41" y2="381.8" stroke="#222" stroke-width="0.9"/>
<line x1="69.34" y1="379.6" x2="69.34" y2="383.9" stroke="#111" stroke-width="1.2"/>
<line x1="75.47" y1="379.6" x2="75.47" y2="381.8" stroke="#222" stroke-width="0.9"/>
<line x1="79.06" y1="379.6" x2="79.06" y2="381.8" stroke="#222" stroke-width="0.9"/>
<line x1="81.6" y1="379.6" x2="81.6" y2="381.8" stroke="#222" stroke-width="0.9"/>
<line x1="83.58" y1="379.6" x2="83.58" y2="381.8" stroke="#222" stroke-width="0.9"/>
<line x1="85.19" y1="379.6" x2="85.19" y2="381.8" stroke="#222" stroke-width="0.9"/>
<line x1="86.55" y1="379.6" x2="86.55" y2="381.8" stroke="#222" stroke-width="0.9"/>
<line x1="87.74" y1="379.6" x2="87.74" y2="381.8" stroke="#222" stroke-width="0.9"/>
<line x1="88.78" y1="379.6" x2="88.78" y2="381.8" stroke="#222" stroke-width="0.9"/>
<line x1="89.71" y1="379.6" x2="89.71" y2="383.9" stroke="#111" stroke-width="1.2"/>
<line x1="95.84" y1="379.6" x2="95.84" y2="381.8" stroke="#222" stroke-width="0.9"/>
<line x1="99.43" y1="379.6" x2="99.43" y2="381.8" stroke="#222" stroke-width="0.9"/>
<line x1="101.97" y1="379.6" x2="101.97" y2="381.8" stroke="#222" stroke-width="0.9"/>
<line x1="103.95" y1="379.6" x2="103.95" y2="381.8" stroke="#222" stroke-width="0.9"/>
<line x1="105.56" y1="379.6" x2="105.56" y2="381.8" stroke="#222" stroke-width="0.9"/>
<line x1="106.92" y1="379.6" x2="106.92" y2="381.8" stroke="#222" stroke-width="0.9"/>
<line x1="108.11" y1="379.6" x2="108.11" y2="381.8" stroke="#222" stroke-width="0.9"/>
<line x1="109.15" y1="379.6" x2="109.15" y2="381.8" stroke="#222" stroke-width="0.9"/>
<line x1="110.08" y1="379.6" x2="110.08" y2="383.9" stroke="#111" stroke-width="1.2"/>
<line x1="116.21" y1="379.6" x2="116.21" y2="381.8" stroke="#222" stroke-width="0.9"/>
<line x1="119.8" y1="379.6" x2="119.8" y2="381.8" stroke="#222" stroke-width="0.9"/>
<line x1="122.34" y1="379.6" x2="122.34" y2="381.8" stroke="#222" stroke-width="0.9"/>
<line x1="124.32" y1="379.6" x2="124.32" y2="381.8" stroke="#222" stroke-width="0.9"/>
<line x1="125.93" y1="379.6" x2="125.93" y2="381.8" stroke="#222" stroke-width="0.9"/>
<line x1="127.29" y1="379.6" x2="127.29" y2="381.8" stroke="#222" stroke-width="0.9"/>
<line x1="128.48" y1="379.6" x2="128.48" y2="381.8" stroke="#222" stroke-width="0.9"/>
<line x1="129.52" y1="379.6" x2="129.52" y2="381.8" stroke="#222" stroke-width="0.9"/>
<line x1="130.45" y1="379.6" x2="130.45" y2="383.9" stroke="#111" stroke-width="1.2"/>
<line x1="136.58" y1="379.6" x2="136.58" y2="381.8" stroke="#222" stroke-width="0.9"/>
<line x1="140.17" y1="379.6" x2="140.17" y2="381.8" stroke="#222" stroke-width="0.9"/>
<line x1="142.71" y1="379.6" x2="142.71" y2="381.8" stroke="#222" stroke-width="0.9"/>
<line x1="144.69" y1="379.6" x2="144.69" y2="381.8" stroke="#222" stroke-width="0.9"/>
<line x1="146.3" y1="379.6" x2="146.3" y2="381.8" stroke="#222" stroke-width="0.9"/>
<line x1="147.66" y1="379.6" x2="147.66" y2="381.8" stroke="#222" stroke-width="0.9"/>
<line x1="148.85" y1="379.6" x2="148.85" y2="381.8" stroke="#222" stroke-width="0.9"/>
<line x1="149.89" y1="379.6" x2="149.89" y2="381.8" stroke="#222" stroke-width="0.9"/>
<line x1="150.82" y1="379.6" x2="150.82" y2="383.9" stroke="#111" stroke-width="1.2"/>
<line x1="156.95" y1="379.6" x2="156.95" y2="381.8" stroke="#222" stroke-width="0.9"/>
<line x1="160.54" y1="379.6" x2="160.54" y2="381.8" stroke="#222" stroke-width="0.9"/>
<line x1="163.08" y1="379.6" x2="163.08" y2="381.8" stroke="#222" stroke-width="0.9"/>
<line x1="165.06" y1="379.6" x2="165.06" y2="381.8" stroke="#222" stroke-width="0.9"/>
<line x1="166.67" y1="379.6" x2="166.67" y2="381.8" stroke="#222" stroke-width="0.9"/>
<line x1="168.03" y1="379.6" x2="168.03" y2="381.8" stroke="#222" stroke-width="0.9"/>
<line x1="169.22" y1="379.6" x2="169.22" y2="381.8" stroke="#222" stroke-width="0.9"/>
<line x1="170.26" y1="379.6" x2="170.26" y2="381.8" stroke="#222" stroke-width="0.9"/>
<line x1="171.19" y1="379.6" x2="171.19" y2="383.9" stroke="#111" stroke-width="1.2"/>
<text x="31.3" y="397.4" font-family='"Liberation Sans", sans-serif' font-size="7" fill="#333" textLength="7.1" lengthAdjust="spacingAndGlyphs">10</text>
<text x="38" y="392.4" font-family='"Liberation Sans", sans-serif' font-size="6.6" fill="#333">0</text>
<text x="66.3" y="397.4" font-family='"Liberation Sans", sans-serif' font-size="7" fill="#333" textLength="7.1" lengthAdjust="spacingAndGlyphs">10</text>
<text x="73" y="392.4" font-family='"Liberation Sans", sans-serif' font-size="6.6" fill="#333">2</text>
<text x="106.6" y="397.4" font-family='"Liberation Sans", sans-serif' font-size="7" fill="#333" textLength="7.1" lengthAdjust="spacingAndGlyphs">10</text>
<text x="113.3" y="392.4" font-family='"Liberation Sans", sans-serif' font-size="6.6" fill="#333">4</text>
<text x="147.8" y="397.4" font-family='"Liberation Sans", sans-serif' font-size="7" fill="#333" textLength="7.1" lengthAdjust="spacingAndGlyphs">10</text>
<text x="154.5" y="392.4" font-family='"Liberation Sans", sans-serif' font-size="6.6" fill="#333">6</text>
<text x="78.3" y="410.1" font-family='"Liberation Sans", sans-serif' font-size="7.1" fill="#2a2a2a" textLength="44" lengthAdjust="spacingAndGlyphs">FL1-A :: FL1-A</text>
<clipPath id="clip3"><rect x="28.4" y="232.6" width="148" height="147"/></clipPath>
<clipPath id="cc3"><path d="M30.5 379.4 C32.75 379.37 40.67 379.4 44 379.2 C47.33 379 48.07 378.67 50.5 378.2 C52.93 377.73 56.28 377.07 58.6 376.4 C60.92 375.73 62.65 375.35 64.4 374.2 C66.15 373.05 67.93 371.27 69.1 369.5 C70.27 367.73 70.73 365.53 71.4 363.6 C72.07 361.67 72.62 360.77 73.1 357.9 C73.58 355.03 73.87 350.22 74.3 346.4 C74.73 342.58 75.18 339.4 75.7 335 C76.22 330.6 76.92 325 77.4 320 C77.88 315 78.25 309.17 78.6 305 C78.95 300.83 79.25 298 79.5 295 C79.75 292 79.9 289.47 80.1 287 C80.3 284.53 80.47 281.95 80.7 280.2 C80.93 278.45 81.28 278.27 81.5 276.5 C81.72 274.73 81.82 271.88 82 269.6 C82.18 267.32 82.35 264.47 82.6 262.8 C82.85 261.13 83.2 260.33 83.5 259.6 C83.8 258.87 84.05 258.08 84.4 258.4 C84.75 258.72 85.23 259.63 85.6 261.5 C85.97 263.37 86.28 266.63 86.6 269.6 C86.92 272.57 87.2 275.9 87.5 279.3 C87.8 282.7 88.08 285.72 88.4 290 C88.72 294.28 89.05 300 89.4 305 C89.75 310 90.2 315 90.5 320 C90.8 325 90.92 330.58 91.2 335 C91.48 339.42 91.65 342.68 92.2 346.5 C92.75 350.32 93.65 354.08 94.5 357.9 C95.35 361.72 96.25 366.53 97.3 369.4 C98.35 372.27 99.45 373.63 100.8 375.1 C102.15 376.57 103.03 377.48 105.4 378.2 C107.77 378.92 113.4 379.2 115 379.4 Z"/></clipPath>
<g clip-path="url(#clip3)">
<path d="M38 379.4 C39 379.37 41.92 379.4 44 379.2 C46.08 379 48.07 378.67 50.5 378.2 C52.93 377.73 56.28 377.07 58.6 376.4 C60.92 375.73 62.67 375.35 64.4 374.2 C66.13 373.05 67.85 371.27 69 369.5 C70.15 367.73 70.63 365.53 71.3 363.6 C71.97 361.67 72.53 360.77 73 357.9 C73.47 355.03 73.7 350.22 74.1 346.4 C74.5 342.58 74.98 339.4 75.4 335 C75.82 330.6 76.27 325 76.6 320 C76.93 315 77.17 309.17 77.4 305 C77.63 300.83 77.8 298.5 78 295 C78.2 291.5 78.4 287.43 78.6 284 C78.8 280.57 79.02 277.57 79.2 274.4 C79.38 271.23 79.53 267.73 79.7 265 C79.87 262.27 80.02 260.08 80.2 258 C80.38 255.92 80.5 254.72 80.8 252.5 C81.1 250.28 81.53 246.93 82 244.7 C82.47 242.47 83.17 239.1 83.6 239.1 C84.03 239.1 84.3 242.47 84.6 244.7 C84.9 246.93 85.18 249.9 85.4 252.5 C85.62 255.1 85.73 257.72 85.9 260.3 C86.07 262.88 86.18 264.88 86.4 268 C86.62 271.12 86.92 275.33 87.2 279 C87.48 282.67 87.77 285.67 88.1 290 C88.43 294.33 88.87 300 89.2 305 C89.53 310 89.87 315 90.1 320 C90.33 325 90.45 330.58 90.6 335 C90.75 339.42 90.73 342.68 91 346.5 C91.27 350.32 91.62 354.08 92.2 357.9 C92.78 361.72 93.73 366.53 94.5 369.4 C95.27 372.27 95.75 373.63 96.8 375.1 C97.85 376.57 98.93 377.5 100.8 378.2 C102.67 378.9 106.8 379.12 108 379.3 Z" fill="#faa8a5"/>
<path d="M30.5 379.4 C32.75 379.37 40.67 379.4 44 379.2 C47.33 379 48.07 378.67 50.5 378.2 C52.93 377.73 56.28 377.07 58.6 376.4 C60.92 375.73 62.65 375.35 64.4 374.2 C66.15 373.05 67.93 371.27 69.1 369.5 C70.27 367.73 70.73 365.53 71.4 363.6 C72.07 361.67 72.62 360.77 73.1 357.9 C73.58 355.03 73.87 350.22 74.3 346.4 C74.73 342.58 75.18 339.4 75.7 335 C76.22 330.6 76.92 325 77.4 320 C77.88 315 78.25 309.17 78.6 305 C78.95 300.83 79.25 298 79.5 295 C79.75 292 79.9 289.47 80.1 287 C80.3 284.53 80.47 281.95 80.7 280.2 C80.93 278.45 81.28 278.27 81.5 276.5 C81.72 274.73 81.82 271.88 82 269.6 C82.18 267.32 82.35 264.47 82.6 262.8 C82.85 261.13 83.2 260.33 83.5 259.6 C83.8 258.87 84.05 258.08 84.4 258.4 C84.75 258.72 85.23 259.63 85.6 261.5 C85.97 263.37 86.28 266.63 86.6 269.6 C86.92 272.57 87.2 275.9 87.5 279.3 C87.8 282.7 88.08 285.72 88.4 290 C88.72 294.28 89.05 300 89.4 305 C89.75 310 90.2 315 90.5 320 C90.8 325 90.92 330.58 91.2 335 C91.48 339.42 91.65 342.68 92.2 346.5 C92.75 350.32 93.65 354.08 94.5 357.9 C95.35 361.72 96.25 366.53 97.3 369.4 C98.35 372.27 99.45 373.63 100.8 375.1 C102.15 376.57 103.03 377.48 105.4 378.2 C107.77 378.92 113.4 379.2 115 379.4 Z" fill="#95e9fa"/>
<path d="M38 379.4 C39 379.37 41.92 379.4 44 379.2 C46.08 379 48.07 378.67 50.5 378.2 C52.93 377.73 56.28 377.07 58.6 376.4 C60.92 375.73 62.67 375.35 64.4 374.2 C66.13 373.05 67.85 371.27 69 369.5 C70.15 367.73 70.63 365.53 71.3 363.6 C71.97 361.67 72.53 360.77 73 357.9 C73.47 355.03 73.7 350.22 74.1 346.4 C74.5 342.58 74.98 339.4 75.4 335 C75.82 330.6 76.27 325 76.6 320 C76.93 315 77.17 309.17 77.4 305 C77.63 300.83 77.8 298.5 78 295 C78.2 291.5 78.4 287.43 78.6 284 C78.8 280.57 79.02 277.57 79.2 274.4 C79.38 271.23 79.53 267.73 79.7 265 C79.87 262.27 80.02 260.08 80.2 258 C80.38 255.92 80.5 254.72 80.8 252.5 C81.1 250.28 81.53 246.93 82 244.7 C82.47 242.47 83.17 239.1 83.6 239.1 C84.03 239.1 84.3 242.47 84.6 244.7 C84.9 246.93 85.18 249.9 85.4 252.5 C85.62 255.1 85.73 257.72 85.9 260.3 C86.07 262.88 86.18 264.88 86.4 268 C86.62 271.12 86.92 275.33 87.2 279 C87.48 282.67 87.77 285.67 88.1 290 C88.43 294.33 88.87 300 89.2 305 C89.53 310 89.87 315 90.1 320 C90.33 325 90.45 330.58 90.6 335 C90.75 339.42 90.73 342.68 91 346.5 C91.27 350.32 91.62 354.08 92.2 357.9 C92.78 361.72 93.73 366.53 94.5 369.4 C95.27 372.27 95.75 373.63 96.8 375.1 C97.85 376.57 98.93 377.5 100.8 378.2 C102.67 378.9 106.8 379.12 108 379.3 Z" fill="#97acc0" clip-path="url(#cc3)"/>
<path d="M38 379.4 C39 379.37 41.92 379.4 44 379.2 C46.08 379 48.07 378.67 50.5 378.2 C52.93 377.73 56.28 377.07 58.6 376.4 C60.92 375.73 62.67 375.35 64.4 374.2 C66.13 373.05 67.85 371.27 69 369.5 C70.15 367.73 70.63 365.53 71.3 363.6 C71.97 361.67 72.53 360.77 73 357.9 C73.47 355.03 73.7 350.22 74.1 346.4 C74.5 342.58 74.98 339.4 75.4 335 C75.82 330.6 76.27 325 76.6 320 C76.93 315 77.17 309.17 77.4 305 C77.63 300.83 77.8 298.5 78 295 C78.2 291.5 78.4 287.43 78.6 284 C78.8 280.57 79.02 277.57 79.2 274.4 C79.38 271.23 79.53 267.73 79.7 265 C79.87 262.27 80.02 260.08 80.2 258 C80.38 255.92 80.5 254.72 80.8 252.5 C81.1 250.28 81.53 246.93 82 244.7 C82.47 242.47 83.17 239.1 83.6 239.1 C84.03 239.1 84.3 242.47 84.6 244.7 C84.9 246.93 85.18 249.9 85.4 252.5 C85.62 255.1 85.73 257.72 85.9 260.3 C86.07 262.88 86.18 264.88 86.4 268 C86.62 271.12 86.92 275.33 87.2 279 C87.48 282.67 87.77 285.67 88.1 290 C88.43 294.33 88.87 300 89.2 305 C89.53 310 89.87 315 90.1 320 C90.33 325 90.45 330.58 90.6 335 C90.75 339.42 90.73 342.68 91 346.5 C91.27 350.32 91.62 354.08 92.2 357.9 C92.78 361.72 93.73 366.53 94.5 369.4 C95.27 372.27 95.75 373.63 96.8 375.1 C97.85 376.57 98.93 377.5 100.8 378.2 C102.67 378.9 106.8 379.12 108 379.3" fill="none" stroke="#e4585e" stroke-width="1"/>
<path d="M38 379.4 C39 379.37 41.92 379.4 44 379.2 C46.08 379 48.07 378.67 50.5 378.2 C52.93 377.73 56.28 377.07 58.6 376.4 C60.92 375.73 62.67 375.35 64.4 374.2 C66.13 373.05 67.85 371.27 69 369.5 C70.15 367.73 70.63 365.53 71.3 363.6 C71.97 361.67 72.53 360.77 73 357.9 C73.47 355.03 73.7 350.22 74.1 346.4 C74.5 342.58 74.98 339.4 75.4 335 C75.82 330.6 76.27 325 76.6 320 C76.93 315 77.17 309.17 77.4 305 C77.63 300.83 77.8 298.5 78 295 C78.2 291.5 78.4 287.43 78.6 284 C78.8 280.57 79.02 277.57 79.2 274.4 C79.38 271.23 79.53 267.73 79.7 265 C79.87 262.27 80.02 260.08 80.2 258 C80.38 255.92 80.5 254.72 80.8 252.5 C81.1 250.28 81.53 246.93 82 244.7 C82.47 242.47 83.17 239.1 83.6 239.1 C84.03 239.1 84.3 242.47 84.6 244.7 C84.9 246.93 85.18 249.9 85.4 252.5 C85.62 255.1 85.73 257.72 85.9 260.3 C86.07 262.88 86.18 264.88 86.4 268 C86.62 271.12 86.92 275.33 87.2 279 C87.48 282.67 87.77 285.67 88.1 290 C88.43 294.33 88.87 300 89.2 305 C89.53 310 89.87 315 90.1 320 C90.33 325 90.45 330.58 90.6 335 C90.75 339.42 90.73 342.68 91 346.5 C91.27 350.32 91.62 354.08 92.2 357.9 C92.78 361.72 93.73 366.53 94.5 369.4 C95.27 372.27 95.75 373.63 96.8 375.1 C97.85 376.57 98.93 377.5 100.8 378.2 C102.67 378.9 106.8 379.12 108 379.3" fill="none" stroke="#8a88a2" stroke-width="1" clip-path="url(#cc3)"/>
<path d="M30.5 379.4 C32.75 379.37 40.67 379.4 44 379.2 C47.33 379 48.07 378.67 50.5 378.2 C52.93 377.73 56.28 377.07 58.6 376.4 C60.92 375.73 62.65 375.35 64.4 374.2 C66.15 373.05 67.93 371.27 69.1 369.5 C70.27 367.73 70.73 365.53 71.4 363.6 C72.07 361.67 72.62 360.77 73.1 357.9 C73.58 355.03 73.87 350.22 74.3 346.4 C74.73 342.58 75.18 339.4 75.7 335 C76.22 330.6 76.92 325 77.4 320 C77.88 315 78.25 309.17 78.6 305 C78.95 300.83 79.25 298 79.5 295 C79.75 292 79.9 289.47 80.1 287 C80.3 284.53 80.47 281.95 80.7 280.2 C80.93 278.45 81.28 278.27 81.5 276.5 C81.72 274.73 81.82 271.88 82 269.6 C82.18 267.32 82.35 264.47 82.6 262.8 C82.85 261.13 83.2 260.33 83.5 259.6 C83.8 258.87 84.05 258.08 84.4 258.4 C84.75 258.72 85.23 259.63 85.6 261.5 C85.97 263.37 86.28 266.63 86.6 269.6 C86.92 272.57 87.2 275.9 87.5 279.3 C87.8 282.7 88.08 285.72 88.4 290 C88.72 294.28 89.05 300 89.4 305 C89.75 310 90.2 315 90.5 320 C90.8 325 90.92 330.58 91.2 335 C91.48 339.42 91.65 342.68 92.2 346.5 C92.75 350.32 93.65 354.08 94.5 357.9 C95.35 361.72 96.25 366.53 97.3 369.4 C98.35 372.27 99.45 373.63 100.8 375.1 C102.15 376.57 103.03 377.48 105.4 378.2 C107.77 378.92 113.4 379.2 115 379.4" fill="none" stroke="#3ac2e6" stroke-width="1.15"/>
</g>
<rect x="28.4" y="232.6" width="148" height="147" fill="none" stroke="#555" stroke-width="1"/>
<line x1="28.4" y1="232.6" x2="28.4" y2="380.2" stroke="#707070" stroke-width="1.2"/>
<line x1="28.4" y1="379.3" x2="176.4" y2="379.3" stroke="#36b0dc" stroke-width="1.5"/>
<path d="M28.9 379 L28.9 327.8 L29.6 376.8 L33 379" fill="none" stroke="#3ac2e6" stroke-width="1.1"/>
<path d="M132.5 240.7 Q122.1 246.85 132.5 253 L133.1 252.7 Q125.5 246.85 133.1 241 Z" fill="#1a1208"/>
<path d="M161.9 240.7 Q173.3 246.85 161.9 253 L161.3 252.7 Q169.9 246.85 161.3 241 Z" fill="#1a1208"/>
<text x="138.4" y="252.1" font-family='"Liberation Serif", serif' font-weight="bold" font-size="14.65" fill="#1a1208" textLength="18" lengthAdjust="spacingAndGlyphs">III</text>
<rect x="200.7" y="232.5" width="139.1" height="9.9" fill="#e2e2e2"/>
<rect x="190.6" y="232.5" width="10.1" height="9.9" fill="#fff"/>
<rect x="190.6" y="232.5" width="149.2" height="29.8" fill="none" stroke="#333" stroke-width="1"/>
<line x1="200.7" y1="232.5" x2="200.7" y2="262.3" stroke="#333" stroke-width="1"/>
<line x1="247.4" y1="232.5" x2="247.4" y2="262.3" stroke="#333" stroke-width="1"/>
<line x1="294.7" y1="232.5" x2="294.7" y2="262.3" stroke="#333" stroke-width="1"/>
<line x1="190.6" y1="242.4" x2="339.8" y2="242.4" stroke="#333" stroke-width="1"/>
<line x1="190.6" y1="252.4" x2="339.8" y2="252.4" stroke="#333" stroke-width="1"/>
<rect x="192.3" y="244.9" width="5.8" height="4.9" fill="#95e9fa" stroke="#3ac2e6" stroke-width="0.8"/>
<rect x="192.3" y="254.9" width="5.8" height="4.8" fill="#faa8a5" stroke="#e4585e" stroke-width="0.8"/>
<text x="202.3" y="239.8" font-family='"Liberation Sans", sans-serif' font-weight="bold" font-size="6.6" fill="#111">Sample Name</text>
<text x="249.1" y="239.8" font-family='"Liberation Sans", sans-serif' font-weight="bold" font-size="6.6" fill="#111">Subset Name</text>
<text x="317.25" y="239.8" text-anchor="middle" font-family='"Liberation Sans", sans-serif' font-weight="bold" font-size="6.6" fill="#111">Count</text>
<text x="202.3" y="249.7" font-family='"Liberation Sans", sans-serif' font-size="6" fill="#222" stroke="#222" stroke-width="0.08">A07 KU-A.fcs</text>
<text x="249.1" y="249.7" font-family='"Liberation Sans", sans-serif' font-size="6" fill="#222" stroke="#222" stroke-width="0.08">P2</text>
<text x="338.3" y="249.7" text-anchor="end" font-family='"Liberation Sans", sans-serif' font-size="6" fill="#222" stroke="#222" stroke-width="0.08">12284</text>
<text x="202.3" y="259.6" font-family='"Liberation Sans", sans-serif' font-size="6" fill="#222" stroke="#222" stroke-width="0.08">A02 ku-nc.fcs</text>
<text x="249.1" y="259.6" font-family='"Liberation Sans", sans-serif' font-size="6" fill="#222" stroke="#222" stroke-width="0.08">P2</text>
<text x="338.3" y="259.6" text-anchor="end" font-family='"Liberation Sans", sans-serif' font-size="6" fill="#222" stroke="#222" stroke-width="0.08">12217</text>
<line x1="366.2" y1="379.2" x2="370.8" y2="379.2" stroke="#111" stroke-width="1.3"/>
<text x="364.3" y="383.5" text-anchor="end" font-family='"Liberation Sans", sans-serif' font-size="6.6" fill="#2a2a2a">0</text>
<line x1="369" y1="372.64" x2="370.8" y2="372.64" stroke="#333" stroke-width="1"/>
<line x1="369" y1="366.09" x2="370.8" y2="366.09" stroke="#333" stroke-width="1"/>
<line x1="369" y1="359.53" x2="370.8" y2="359.53" stroke="#333" stroke-width="1"/>
<line x1="366.2" y1="352.98" x2="370.8" y2="352.98" stroke="#111" stroke-width="1.3"/>
<text x="364.3" y="357.28" text-anchor="end" font-family='"Liberation Sans", sans-serif' font-size="6.6" fill="#2a2a2a">100</text>
<line x1="369" y1="346.43" x2="370.8" y2="346.43" stroke="#333" stroke-width="1"/>
<line x1="369" y1="339.87" x2="370.8" y2="339.87" stroke="#333" stroke-width="1"/>
<line x1="369" y1="333.31" x2="370.8" y2="333.31" stroke="#333" stroke-width="1"/>
<line x1="366.2" y1="326.76" x2="370.8" y2="326.76" stroke="#111" stroke-width="1.3"/>
<text x="364.3" y="331.06" text-anchor="end" font-family='"Liberation Sans", sans-serif' font-size="6.6" fill="#2a2a2a">200</text>
<line x1="369" y1="320.2" x2="370.8" y2="320.2" stroke="#333" stroke-width="1"/>
<line x1="369" y1="313.65" x2="370.8" y2="313.65" stroke="#333" stroke-width="1"/>
<line x1="369" y1="307.1" x2="370.8" y2="307.1" stroke="#333" stroke-width="1"/>
<line x1="366.2" y1="300.54" x2="370.8" y2="300.54" stroke="#111" stroke-width="1.3"/>
<text x="364.3" y="304.84" text-anchor="end" font-family='"Liberation Sans", sans-serif' font-size="6.6" fill="#2a2a2a">300</text>
<line x1="369" y1="293.99" x2="370.8" y2="293.99" stroke="#333" stroke-width="1"/>
<line x1="369" y1="287.43" x2="370.8" y2="287.43" stroke="#333" stroke-width="1"/>
<line x1="369" y1="280.88" x2="370.8" y2="280.88" stroke="#333" stroke-width="1"/>
<line x1="366.2" y1="274.32" x2="370.8" y2="274.32" stroke="#111" stroke-width="1.3"/>
<text x="364.3" y="278.62" text-anchor="end" font-family='"Liberation Sans", sans-serif' font-size="6.6" fill="#2a2a2a">400</text>
<line x1="369" y1="267.76" x2="370.8" y2="267.76" stroke="#333" stroke-width="1"/>
<line x1="369" y1="261.21" x2="370.8" y2="261.21" stroke="#333" stroke-width="1"/>
<line x1="369" y1="254.66" x2="370.8" y2="254.66" stroke="#333" stroke-width="1"/>
<line x1="366.2" y1="248.1" x2="370.8" y2="248.1" stroke="#111" stroke-width="1.3"/>
<text x="364.3" y="252.4" text-anchor="end" font-family='"Liberation Sans", sans-serif' font-size="6.6" fill="#2a2a2a">500</text>
<line x1="369" y1="241.54" x2="370.8" y2="241.54" stroke="#333" stroke-width="1"/>
<line x1="369" y1="234.99" x2="370.8" y2="234.99" stroke="#333" stroke-width="1"/>
<text x="349" y="305.7" text-anchor="middle" font-family='"Liberation Sans", sans-serif' font-size="7.2" fill="#333" transform="rotate(-90 349 305.7)">Count</text>
<line x1="371.1" y1="379.6" x2="371.1" y2="383.9" stroke="#111" stroke-width="1.2"/>
<line x1="377.2" y1="379.6" x2="377.2" y2="381.8" stroke="#222" stroke-width="0.9"/>
<line x1="380.76" y1="379.6" x2="380.76" y2="381.8" stroke="#222" stroke-width="0.9"/>
<line x1="383.29" y1="379.6" x2="383.29" y2="381.8" stroke="#222" stroke-width="0.9"/>
<line x1="385.25" y1="379.6" x2="385.25" y2="381.8" stroke="#222" stroke-width="0.9"/>
<line x1="386.86" y1="379.6" x2="386.86" y2="381.8" stroke="#222" stroke-width="0.9"/>
<line x1="388.21" y1="379.6" x2="388.21" y2="381.8" stroke="#222" stroke-width="0.9"/>
<line x1="389.39" y1="379.6" x2="389.39" y2="381.8" stroke="#222" stroke-width="0.9"/>
<line x1="390.42" y1="379.6" x2="390.42" y2="381.8" stroke="#222" stroke-width="0.9"/>
<line x1="391.35" y1="379.6" x2="391.35" y2="383.9" stroke="#111" stroke-width="1.2"/>
<line x1="397.45" y1="379.6" x2="397.45" y2="381.8" stroke="#222" stroke-width="0.9"/>
<line x1="401.01" y1="379.6" x2="401.01" y2="381.8" stroke="#222" stroke-width="0.9"/>
<line x1="403.54" y1="379.6" x2="403.54" y2="381.8" stroke="#222" stroke-width="0.9"/>
<line x1="405.5" y1="379.6" x2="405.5" y2="381.8" stroke="#222" stroke-width="0.9"/>
<line x1="407.11" y1="379.6" x2="407.11" y2="381.8" stroke="#222" stroke-width="0.9"/>
<line x1="408.46" y1="379.6" x2="408.46" y2="381.8" stroke="#222" stroke-width="0.9"/>
<line x1="409.64" y1="379.6" x2="409.64" y2="381.8" stroke="#222" stroke-width="0.9"/>
<line x1="410.67" y1="379.6" x2="410.67" y2="381.8" stroke="#222" stroke-width="0.9"/>
<line x1="411.6" y1="379.6" x2="411.6" y2="383.9" stroke="#111" stroke-width="1.2"/>
<line x1="417.7" y1="379.6" x2="417.7" y2="381.8" stroke="#222" stroke-width="0.9"/>
<line x1="421.26" y1="379.6" x2="421.26" y2="381.8" stroke="#222" stroke-width="0.9"/>
<line x1="423.79" y1="379.6" x2="423.79" y2="381.8" stroke="#222" stroke-width="0.9"/>
<line x1="425.75" y1="379.6" x2="425.75" y2="381.8" stroke="#222" stroke-width="0.9"/>
<line x1="427.36" y1="379.6" x2="427.36" y2="381.8" stroke="#222" stroke-width="0.9"/>
<line x1="428.71" y1="379.6" x2="428.71" y2="381.8" stroke="#222" stroke-width="0.9"/>
<line x1="429.89" y1="379.6" x2="429.89" y2="381.8" stroke="#222" stroke-width="0.9"/>
<line x1="430.92" y1="379.6" x2="430.92" y2="381.8" stroke="#222" stroke-width="0.9"/>
<line x1="431.85" y1="379.6" x2="431.85" y2="383.9" stroke="#111" stroke-width="1.2"/>
<line x1="437.95" y1="379.6" x2="437.95" y2="381.8" stroke="#222" stroke-width="0.9"/>
<line x1="441.51" y1="379.6" x2="441.51" y2="381.8" stroke="#222" stroke-width="0.9"/>
<line x1="444.04" y1="379.6" x2="444.04" y2="381.8" stroke="#222" stroke-width="0.9"/>
<line x1="446" y1="379.6" x2="446" y2="381.8" stroke="#222" stroke-width="0.9"/>
<line x1="447.61" y1="379.6" x2="447.61" y2="381.8" stroke="#222" stroke-width="0.9"/>
<line x1="448.96" y1="379.6" x2="448.96" y2="381.8" stroke="#222" stroke-width="0.9"/>
<line x1="450.14" y1="379.6" x2="450.14" y2="381.8" stroke="#222" stroke-width="0.9"/>
<line x1="451.17" y1="379.6" x2="451.17" y2="381.8" stroke="#222" stroke-width="0.9"/>
<line x1="452.1" y1="379.6" x2="452.1" y2="383.9" stroke="#111" stroke-width="1.2"/>
<line x1="458.2" y1="379.6" x2="458.2" y2="381.8" stroke="#222" stroke-width="0.9"/>
<line x1="461.76" y1="379.6" x2="461.76" y2="381.8" stroke="#222" stroke-width="0.9"/>
<line x1="464.29" y1="379.6" x2="464.29" y2="381.8" stroke="#222" stroke-width="0.9"/>
<line x1="466.25" y1="379.6" x2="466.25" y2="381.8" stroke="#222" stroke-width="0.9"/>
<line x1="467.86" y1="379.6" x2="467.86" y2="381.8" stroke="#222" stroke-width="0.9"/>
<line x1="469.21" y1="379.6" x2="469.21" y2="381.8" stroke="#222" stroke-width="0.9"/>
<line x1="470.39" y1="379.6" x2="470.39" y2="381.8" stroke="#222" stroke-width="0.9"/>
<line x1="471.42" y1="379.6" x2="471.42" y2="381.8" stroke="#222" stroke-width="0.9"/>
<line x1="472.35" y1="379.6" x2="472.35" y2="383.9" stroke="#111" stroke-width="1.2"/>
<line x1="478.45" y1="379.6" x2="478.45" y2="381.8" stroke="#222" stroke-width="0.9"/>
<line x1="482.01" y1="379.6" x2="482.01" y2="381.8" stroke="#222" stroke-width="0.9"/>
<line x1="484.54" y1="379.6" x2="484.54" y2="381.8" stroke="#222" stroke-width="0.9"/>
<line x1="486.5" y1="379.6" x2="486.5" y2="381.8" stroke="#222" stroke-width="0.9"/>
<line x1="488.11" y1="379.6" x2="488.11" y2="381.8" stroke="#222" stroke-width="0.9"/>
<line x1="489.46" y1="379.6" x2="489.46" y2="381.8" stroke="#222" stroke-width="0.9"/>
<line x1="490.64" y1="379.6" x2="490.64" y2="381.8" stroke="#222" stroke-width="0.9"/>
<line x1="491.67" y1="379.6" x2="491.67" y2="381.8" stroke="#222" stroke-width="0.9"/>
<line x1="492.6" y1="379.6" x2="492.6" y2="383.9" stroke="#111" stroke-width="1.2"/>
<line x1="498.7" y1="379.6" x2="498.7" y2="381.8" stroke="#222" stroke-width="0.9"/>
<line x1="502.26" y1="379.6" x2="502.26" y2="381.8" stroke="#222" stroke-width="0.9"/>
<line x1="504.79" y1="379.6" x2="504.79" y2="381.8" stroke="#222" stroke-width="0.9"/>
<line x1="506.75" y1="379.6" x2="506.75" y2="381.8" stroke="#222" stroke-width="0.9"/>
<line x1="508.36" y1="379.6" x2="508.36" y2="381.8" stroke="#222" stroke-width="0.9"/>
<line x1="509.71" y1="379.6" x2="509.71" y2="381.8" stroke="#222" stroke-width="0.9"/>
<line x1="510.89" y1="379.6" x2="510.89" y2="381.8" stroke="#222" stroke-width="0.9"/>
<line x1="511.92" y1="379.6" x2="511.92" y2="381.8" stroke="#222" stroke-width="0.9"/>
<line x1="512.85" y1="379.6" x2="512.85" y2="383.9" stroke="#111" stroke-width="1.2"/>
<text x="373.4" y="397.8" font-family='"Liberation Sans", sans-serif' font-size="7" fill="#333" textLength="7.1" lengthAdjust="spacingAndGlyphs">10</text>
<text x="380.1" y="392.8" font-family='"Liberation Sans", sans-serif' font-size="6.6" fill="#333">0</text>
<text x="408.4" y="397.8" font-family='"Liberation Sans", sans-serif' font-size="7" fill="#333" textLength="7.1" lengthAdjust="spacingAndGlyphs">10</text>
<text x="415.1" y="392.8" font-family='"Liberation Sans", sans-serif' font-size="6.6" fill="#333">2</text>
<text x="448.7" y="397.8" font-family='"Liberation Sans", sans-serif' font-size="7" fill="#333" textLength="7.1" lengthAdjust="spacingAndGlyphs">10</text>
<text x="455.4" y="392.8" font-family='"Liberation Sans", sans-serif' font-size="6.6" fill="#333">4</text>
<text x="489.6" y="397.8" font-family='"Liberation Sans", sans-serif' font-size="7" fill="#333" textLength="7.1" lengthAdjust="spacingAndGlyphs">10</text>
<text x="496.3" y="392.8" font-family='"Liberation Sans", sans-serif' font-size="6.6" fill="#333">6</text>
<text x="421" y="410.1" font-family='"Liberation Sans", sans-serif' font-size="7.1" fill="#2a2a2a" textLength="44.3" lengthAdjust="spacingAndGlyphs">FL1-A :: FL1-A</text>
<clipPath id="clip4"><rect x="370.8" y="232.5" width="148.1" height="147.1"/></clipPath>
<clipPath id="cc4"><path d="M372 379.4 C373.5 379.37 378.17 379.42 381 379.2 C383.83 378.98 386.5 378.58 389 378.1 C391.5 377.62 393.98 376.97 396 376.3 C398.02 375.63 399.47 375.23 401.1 374.1 C402.73 372.97 404.53 371.25 405.8 369.5 C407.07 367.75 407.8 365.53 408.7 363.6 C409.6 361.67 410.38 360.77 411.2 357.9 C412.02 355.03 412.93 350.22 413.6 346.4 C414.27 342.58 414.73 339.07 415.2 335 C415.67 330.93 416.03 325.67 416.4 322 C416.77 318.33 417.07 316.17 417.4 313 C417.73 309.83 418.13 306 418.4 303 C418.67 300 418.8 297.5 419 295 C419.2 292.5 419.4 290.25 419.6 288 C419.8 285.75 420 283.4 420.2 281.5 C420.4 279.6 420.53 278.13 420.8 276.6 C421.07 275.07 421.47 273.65 421.8 272.3 C422.13 270.95 422.45 268.72 422.8 268.5 C423.15 268.28 423.55 269.58 423.9 271 C424.25 272.42 424.6 273.83 424.9 277 C425.2 280.17 425.43 285.33 425.7 290 C425.97 294.67 426.23 299.67 426.5 305 C426.77 310.33 426.85 317 427.3 322 C427.75 327 428.8 330.92 429.2 335 C429.6 339.08 429.43 342.68 429.7 346.5 C429.97 350.32 430.5 354.78 430.8 357.9 C431.1 361.02 431.22 363.28 431.5 365.2 C431.78 367.12 431.77 367.75 432.5 369.4 C433.23 371.05 434.22 373.63 435.9 375.1 C437.58 376.57 440.53 377.55 442.6 378.2 C444.67 378.85 446.23 378.8 448.3 379 C450.37 379.2 453.88 379.33 455 379.4 Z"/></clipPath>
<g clip-path="url(#clip4)">
<path d="M376 379.4 C376.83 379.37 378.83 379.42 381 379.2 C383.17 378.98 386.5 378.58 389 378.1 C391.5 377.62 393.98 376.97 396 376.3 C398.02 375.63 399.48 375.23 401.1 374.1 C402.72 372.97 404.47 371.25 405.7 369.5 C406.93 367.75 407.65 365.53 408.5 363.6 C409.35 361.67 410.05 360.77 410.8 357.9 C411.55 355.03 412.45 350.22 413 346.4 C413.55 342.58 413.82 338.57 414.1 335 C414.38 331.43 414.48 327.83 414.7 325 C414.92 322.17 415.12 320.5 415.4 318 C415.68 315.5 416.08 312.5 416.4 310 C416.72 307.5 417.05 305.5 417.3 303 C417.55 300.5 417.72 298 417.9 295 C418.08 292 418.25 288.33 418.4 285 C418.55 281.67 418.67 278 418.8 275 C418.93 272 419.03 269.33 419.2 267 C419.37 264.67 419.57 263 419.8 261 C420.03 259 420.3 256.95 420.6 255 C420.9 253.05 421.23 249.3 421.6 249.3 C421.97 249.3 422.47 252.88 422.8 255 C423.13 257.12 423.33 259.5 423.6 262 C423.87 264.5 424.12 266.67 424.4 270 C424.68 273.33 425.05 277.83 425.3 282 C425.55 286.17 425.72 290.33 425.9 295 C426.08 299.67 426.25 305.5 426.4 310 C426.55 314.5 426.67 317.83 426.8 322 C426.93 326.17 427.05 330.92 427.2 335 C427.35 339.08 427.42 342.68 427.7 346.5 C427.98 350.32 428.48 354.08 428.9 357.9 C429.32 361.72 429.43 366.53 430.2 369.4 C430.97 372.27 432 373.62 433.5 375.1 C435 376.58 437.28 377.62 439.2 378.3 C441.12 378.98 443.2 379.02 445 379.2 C446.8 379.38 449.17 379.37 450 379.4 Z" fill="#faa8a5"/>
<path d="M372 379.4 C373.5 379.37 378.17 379.42 381 379.2 C383.83 378.98 386.5 378.58 389 378.1 C391.5 377.62 393.98 376.97 396 376.3 C398.02 375.63 399.47 375.23 401.1 374.1 C402.73 372.97 404.53 371.25 405.8 369.5 C407.07 367.75 407.8 365.53 408.7 363.6 C409.6 361.67 410.38 360.77 411.2 357.9 C412.02 355.03 412.93 350.22 413.6 346.4 C414.27 342.58 414.73 339.07 415.2 335 C415.67 330.93 416.03 325.67 416.4 322 C416.77 318.33 417.07 316.17 417.4 313 C417.73 309.83 418.13 306 418.4 303 C418.67 300 418.8 297.5 419 295 C419.2 292.5 419.4 290.25 419.6 288 C419.8 285.75 420 283.4 420.2 281.5 C420.4 279.6 420.53 278.13 420.8 276.6 C421.07 275.07 421.47 273.65 421.8 272.3 C422.13 270.95 422.45 268.72 422.8 268.5 C423.15 268.28 423.55 269.58 423.9 271 C424.25 272.42 424.6 273.83 424.9 277 C425.2 280.17 425.43 285.33 425.7 290 C425.97 294.67 426.23 299.67 426.5 305 C426.77 310.33 426.85 317 427.3 322 C427.75 327 428.8 330.92 429.2 335 C429.6 339.08 429.43 342.68 429.7 346.5 C429.97 350.32 430.5 354.78 430.8 357.9 C431.1 361.02 431.22 363.28 431.5 365.2 C431.78 367.12 431.77 367.75 432.5 369.4 C433.23 371.05 434.22 373.63 435.9 375.1 C437.58 376.57 440.53 377.55 442.6 378.2 C444.67 378.85 446.23 378.8 448.3 379 C450.37 379.2 453.88 379.33 455 379.4 Z" fill="#95e9fa"/>
<path d="M376 379.4 C376.83 379.37 378.83 379.42 381 379.2 C383.17 378.98 386.5 378.58 389 378.1 C391.5 377.62 393.98 376.97 396 376.3 C398.02 375.63 399.48 375.23 401.1 374.1 C402.72 372.97 404.47 371.25 405.7 369.5 C406.93 367.75 407.65 365.53 408.5 363.6 C409.35 361.67 410.05 360.77 410.8 357.9 C411.55 355.03 412.45 350.22 413 346.4 C413.55 342.58 413.82 338.57 414.1 335 C414.38 331.43 414.48 327.83 414.7 325 C414.92 322.17 415.12 320.5 415.4 318 C415.68 315.5 416.08 312.5 416.4 310 C416.72 307.5 417.05 305.5 417.3 303 C417.55 300.5 417.72 298 417.9 295 C418.08 292 418.25 288.33 418.4 285 C418.55 281.67 418.67 278 418.8 275 C418.93 272 419.03 269.33 419.2 267 C419.37 264.67 419.57 263 419.8 261 C420.03 259 420.3 256.95 420.6 255 C420.9 253.05 421.23 249.3 421.6 249.3 C421.97 249.3 422.47 252.88 422.8 255 C423.13 257.12 423.33 259.5 423.6 262 C423.87 264.5 424.12 266.67 424.4 270 C424.68 273.33 425.05 277.83 425.3 282 C425.55 286.17 425.72 290.33 425.9 295 C426.08 299.67 426.25 305.5 426.4 310 C426.55 314.5 426.67 317.83 426.8 322 C426.93 326.17 427.05 330.92 427.2 335 C427.35 339.08 427.42 342.68 427.7 346.5 C427.98 350.32 428.48 354.08 428.9 357.9 C429.32 361.72 429.43 366.53 430.2 369.4 C430.97 372.27 432 373.62 433.5 375.1 C435 376.58 437.28 377.62 439.2 378.3 C441.12 378.98 443.2 379.02 445 379.2 C446.8 379.38 449.17 379.37 450 379.4 Z" fill="#97acc0" clip-path="url(#cc4)"/>
<path d="M376 379.4 C376.83 379.37 378.83 379.42 381 379.2 C383.17 378.98 386.5 378.58 389 378.1 C391.5 377.62 393.98 376.97 396 376.3 C398.02 375.63 399.48 375.23 401.1 374.1 C402.72 372.97 404.47 371.25 405.7 369.5 C406.93 367.75 407.65 365.53 408.5 363.6 C409.35 361.67 410.05 360.77 410.8 357.9 C411.55 355.03 412.45 350.22 413 346.4 C413.55 342.58 413.82 338.57 414.1 335 C414.38 331.43 414.48 327.83 414.7 325 C414.92 322.17 415.12 320.5 415.4 318 C415.68 315.5 416.08 312.5 416.4 310 C416.72 307.5 417.05 305.5 417.3 303 C417.55 300.5 417.72 298 417.9 295 C418.08 292 418.25 288.33 418.4 285 C418.55 281.67 418.67 278 418.8 275 C418.93 272 419.03 269.33 419.2 267 C419.37 264.67 419.57 263 419.8 261 C420.03 259 420.3 256.95 420.6 255 C420.9 253.05 421.23 249.3 421.6 249.3 C421.97 249.3 422.47 252.88 422.8 255 C423.13 257.12 423.33 259.5 423.6 262 C423.87 264.5 424.12 266.67 424.4 270 C424.68 273.33 425.05 277.83 425.3 282 C425.55 286.17 425.72 290.33 425.9 295 C426.08 299.67 426.25 305.5 426.4 310 C426.55 314.5 426.67 317.83 426.8 322 C426.93 326.17 427.05 330.92 427.2 335 C427.35 339.08 427.42 342.68 427.7 346.5 C427.98 350.32 428.48 354.08 428.9 357.9 C429.32 361.72 429.43 366.53 430.2 369.4 C430.97 372.27 432 373.62 433.5 375.1 C435 376.58 437.28 377.62 439.2 378.3 C441.12 378.98 443.2 379.02 445 379.2 C446.8 379.38 449.17 379.37 450 379.4" fill="none" stroke="#e4585e" stroke-width="1"/>
<path d="M376 379.4 C376.83 379.37 378.83 379.42 381 379.2 C383.17 378.98 386.5 378.58 389 378.1 C391.5 377.62 393.98 376.97 396 376.3 C398.02 375.63 399.48 375.23 401.1 374.1 C402.72 372.97 404.47 371.25 405.7 369.5 C406.93 367.75 407.65 365.53 408.5 363.6 C409.35 361.67 410.05 360.77 410.8 357.9 C411.55 355.03 412.45 350.22 413 346.4 C413.55 342.58 413.82 338.57 414.1 335 C414.38 331.43 414.48 327.83 414.7 325 C414.92 322.17 415.12 320.5 415.4 318 C415.68 315.5 416.08 312.5 416.4 310 C416.72 307.5 417.05 305.5 417.3 303 C417.55 300.5 417.72 298 417.9 295 C418.08 292 418.25 288.33 418.4 285 C418.55 281.67 418.67 278 418.8 275 C418.93 272 419.03 269.33 419.2 267 C419.37 264.67 419.57 263 419.8 261 C420.03 259 420.3 256.95 420.6 255 C420.9 253.05 421.23 249.3 421.6 249.3 C421.97 249.3 422.47 252.88 422.8 255 C423.13 257.12 423.33 259.5 423.6 262 C423.87 264.5 424.12 266.67 424.4 270 C424.68 273.33 425.05 277.83 425.3 282 C425.55 286.17 425.72 290.33 425.9 295 C426.08 299.67 426.25 305.5 426.4 310 C426.55 314.5 426.67 317.83 426.8 322 C426.93 326.17 427.05 330.92 427.2 335 C427.35 339.08 427.42 342.68 427.7 346.5 C427.98 350.32 428.48 354.08 428.9 357.9 C429.32 361.72 429.43 366.53 430.2 369.4 C430.97 372.27 432 373.62 433.5 375.1 C435 376.58 437.28 377.62 439.2 378.3 C441.12 378.98 443.2 379.02 445 379.2 C446.8 379.38 449.17 379.37 450 379.4" fill="none" stroke="#8a88a2" stroke-width="1" clip-path="url(#cc4)"/>
<path d="M372 379.4 C373.5 379.37 378.17 379.42 381 379.2 C383.83 378.98 386.5 378.58 389 378.1 C391.5 377.62 393.98 376.97 396 376.3 C398.02 375.63 399.47 375.23 401.1 374.1 C402.73 372.97 404.53 371.25 405.8 369.5 C407.07 367.75 407.8 365.53 408.7 363.6 C409.6 361.67 410.38 360.77 411.2 357.9 C412.02 355.03 412.93 350.22 413.6 346.4 C414.27 342.58 414.73 339.07 415.2 335 C415.67 330.93 416.03 325.67 416.4 322 C416.77 318.33 417.07 316.17 417.4 313 C417.73 309.83 418.13 306 418.4 303 C418.67 300 418.8 297.5 419 295 C419.2 292.5 419.4 290.25 419.6 288 C419.8 285.75 420 283.4 420.2 281.5 C420.4 279.6 420.53 278.13 420.8 276.6 C421.07 275.07 421.47 273.65 421.8 272.3 C422.13 270.95 422.45 268.72 422.8 268.5 C423.15 268.28 423.55 269.58 423.9 271 C424.25 272.42 424.6 273.83 424.9 277 C425.2 280.17 425.43 285.33 425.7 290 C425.97 294.67 426.23 299.67 426.5 305 C426.77 310.33 426.85 317 427.3 322 C427.75 327 428.8 330.92 429.2 335 C429.6 339.08 429.43 342.68 429.7 346.5 C429.97 350.32 430.5 354.78 430.8 357.9 C431.1 361.02 431.22 363.28 431.5 365.2 C431.78 367.12 431.77 367.75 432.5 369.4 C433.23 371.05 434.22 373.63 435.9 375.1 C437.58 376.57 440.53 377.55 442.6 378.2 C444.67 378.85 446.23 378.8 448.3 379 C450.37 379.2 453.88 379.33 455 379.4" fill="none" stroke="#3ac2e6" stroke-width="1.15"/>
</g>
<rect x="370.8" y="232.5" width="148.1" height="147.1" fill="none" stroke="#555" stroke-width="1"/>
<line x1="370.8" y1="232.5" x2="370.8" y2="380.2" stroke="#707070" stroke-width="1.2"/>
<line x1="370.8" y1="379.3" x2="518.9" y2="379.3" stroke="#36b0dc" stroke-width="1.5"/>
<path d="M371.3 379 L371.3 266.5" fill="none" stroke="#3ac2e6" stroke-width="1.1"/>
<path d="M473.3 241.6 Q462.7 247.7 473.3 253.8 L473.9 253.5 Q466.1 247.7 473.9 241.9 Z" fill="#1a1208"/>
<path d="M502.4 241.6 Q512.8 247.7 502.4 253.8 L501.8 253.5 Q509.4 247.7 501.8 241.9 Z" fill="#1a1208"/>
<text x="478.9" y="253" font-family='"Liberation Serif", serif' font-weight="bold" font-size="14.95" fill="#1a1208" textLength="17" lengthAdjust="spacingAndGlyphs">IV</text>
<rect x="543.4" y="232.7" width="138.2" height="10.3" fill="#e2e2e2"/>
<rect x="532.6" y="232.7" width="10.8" height="10.3" fill="#fff"/>
<rect x="532.6" y="232.7" width="149" height="29.9" fill="none" stroke="#333" stroke-width="1"/>
<line x1="543.4" y1="232.7" x2="543.4" y2="262.6" stroke="#333" stroke-width="1"/>
<line x1="590.4" y1="232.7" x2="590.4" y2="262.6" stroke="#333" stroke-width="1"/>
<line x1="636.4" y1="232.7" x2="636.4" y2="262.6" stroke="#333" stroke-width="1"/>
<line x1="532.6" y1="243" x2="681.6" y2="243" stroke="#333" stroke-width="1"/>
<line x1="532.6" y1="252.9" x2="681.6" y2="252.9" stroke="#333" stroke-width="1"/>
<rect x="534.3" y="245.5" width="6.5" height="4.8" fill="#95e9fa" stroke="#3ac2e6" stroke-width="0.8"/>
<rect x="534.3" y="255.4" width="6.5" height="4.6" fill="#faa8a5" stroke="#e4585e" stroke-width="0.8"/>
<text x="545" y="240.4" font-family='"Liberation Sans", sans-serif' font-weight="bold" font-size="6.6" fill="#111">Sample Name</text>
<text x="592.1" y="240.4" font-family='"Liberation Sans", sans-serif' font-weight="bold" font-size="6.6" fill="#111">Subset Name</text>
<text x="659" y="240.4" text-anchor="middle" font-family='"Liberation Sans", sans-serif' font-weight="bold" font-size="6.6" fill="#111">Count</text>
<text x="545" y="250.2" font-family='"Liberation Sans", sans-serif' font-size="6" fill="#222" stroke="#222" stroke-width="0.08">A05 da-A.fcs</text>
<text x="592.1" y="250.2" font-family='"Liberation Sans", sans-serif' font-size="6" fill="#222" stroke="#222" stroke-width="0.08">P2</text>
<text x="680.1" y="250.2" text-anchor="end" font-family='"Liberation Sans", sans-serif' font-size="6" fill="#222" stroke="#222" stroke-width="0.08">10895</text>
<text x="545" y="259.9" font-family='"Liberation Sans", sans-serif' font-size="6" fill="#222" stroke="#222" stroke-width="0.08">A01 da-nc.fcs</text>
<text x="592.1" y="259.9" font-family='"Liberation Sans", sans-serif' font-size="6" fill="#222" stroke="#222" stroke-width="0.08">P2</text>
<text x="680.1" y="259.9" text-anchor="end" font-family='"Liberation Sans", sans-serif' font-size="6" fill="#222" stroke="#222" stroke-width="0.08">11215</text>
</svg></body></html>
